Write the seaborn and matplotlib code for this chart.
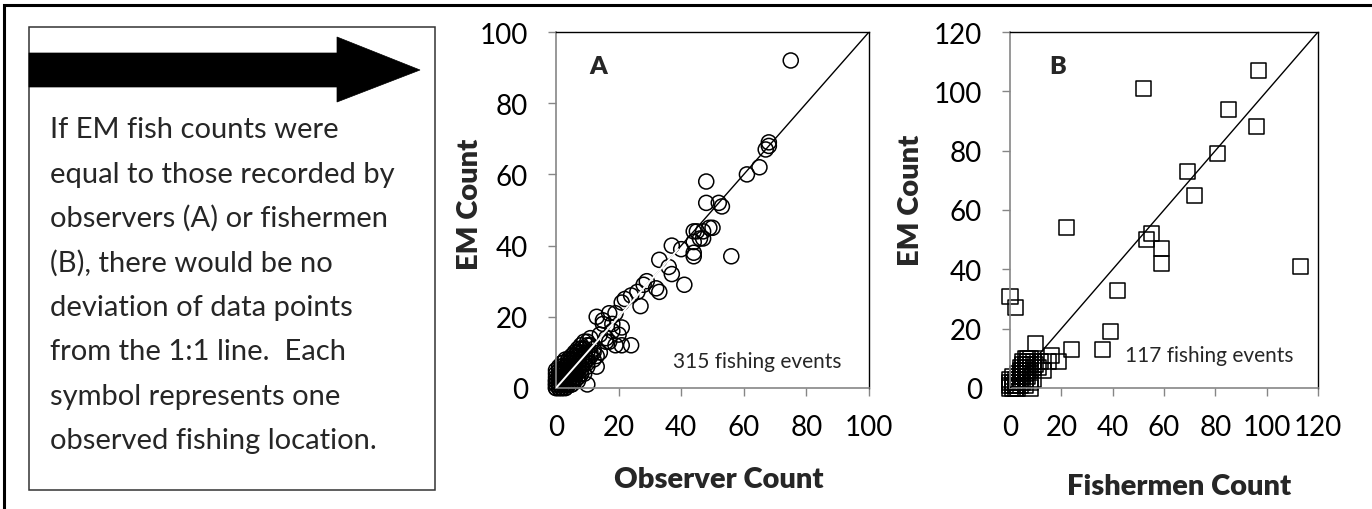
import matplotlib
matplotlib.use("Agg")
import matplotlib.pyplot as plt
import matplotlib.patches as patches
import seaborn as sns
import pandas as pd

# Painel A: observador vs EM
obs_a = [75, 68, 68, 67, 61, 65, 48, 48, 52, 53, 44, 47, 49, 46, 44, 44, 56,
         37, 40, 33, 36, 37, 41, 32, 28, 29, 26, 27, 24, 22, 21, 33, 44, 45, 47, 50,
         13, 15, 15, 18, 19, 17, 21, 20, 18, 16, 17, 19, 21, 24, 16, 14,
         13, 13, 14, 10, 7, 11, 10, 8, 9, 12,
         0, 0, 0, 0, 1, 1, 1, 1, 1, 2, 2, 2, 2, 2, 2, 3, 3, 3, 3, 3, 3,
         4, 4, 4, 4, 4, 5, 5, 5, 5, 5, 6, 6, 6, 6, 7, 7, 7, 7, 8, 8, 8,
         9, 9, 9, 10, 10, 0, 1, 2, 3, 1, 2, 0, 4, 5, 6, 3, 2, 1, 7, 8, 6,
         5, 4, 3, 2, 11, 12, 10, 9, 8, 1, 0, 2, 3, 4, 6, 7, 5, 11, 9,
         0, 1, 1, 2, 3, 4, 5, 6, 7, 8, 9, 10, 11, 12, 4, 5, 6, 7, 8, 9,
         2, 3, 4, 5, 6, 7, 1, 2, 3, 0, 1, 2, 5, 6, 7, 8, 3, 4, 10, 11]
em_a = [92, 69, 68, 67, 60, 62, 58, 52, 52, 51, 44, 44, 45, 42, 41, 37, 37,
        40, 39, 36, 34, 32, 29, 28, 29, 30, 27, 23, 26, 25, 24, 27, 38, 44, 42, 45,
        20, 18, 19, 18, 21, 21, 17, 15, 16, 14, 13, 12, 12, 12, 13, 15,
        6, 9, 10, 1, 2, 10, 12, 11, 9, 8,
        0, 1, 2, 0, 0, 1, 2, 3, 1, 0, 1, 2, 3, 4, 2, 1, 2, 3, 4, 5, 3,
        2, 3, 4, 5, 6, 3, 4, 5, 6, 7, 4, 5, 6, 8, 5, 6, 7, 9, 6, 8, 10,
        7, 9, 11, 8, 10, 3, 4, 5, 6, 5, 6, 4, 7, 8, 9, 1, 0, 0, 10, 11, 3,
        1, 1, 0, 7, 9, 11, 6, 4, 4, 3, 2, 0, 2, 8, 7, 3, 2, 12, 11,
        1, 0, 3, 2, 1, 2, 2, 4, 5, 5, 7, 7, 9, 10, 8, 9, 10, 11, 12, 13,
        5, 6, 7, 8, 9, 10, 6, 7, 8, 5, 3, 4, 1, 2, 3, 4, 0, 1, 13, 14]

# Painel B: pescadores vs EM
fish_b = [97, 52, 85, 96, 81, 69, 72, 22, 55, 53, 59, 59, 42, 39, 36, 24, 19,
          16, 15, 10, 13, 0, 2, 113,
          0, 0, 1, 1, 0, 2, 1, 2, 3, 0, 1, 3, 2, 4, 3, 4, 5, 5, 6, 4, 6, 5,
          7, 6, 7, 8, 8, 7, 6, 5, 4, 3, 8, 9, 9, 7, 6, 8, 5, 4, 3, 2, 9, 8,
          6, 10, 11, 12]
em_b = [107, 101, 94, 88, 79, 73, 65, 54, 52, 50, 47, 42, 33, 19, 13, 13, 9,
        11, 9, 15, 6, 31, 27, 41,
        0, 1, 0, 2, 2, 1, 1, 3, 2, 3, 4, 1, 0, 3, 4, 5, 4, 6, 5, 7, 8, 9,
        9, 7, 6, 8, 10, 10, 10, 8, 6, 5, 6, 9, 7, 4, 3, 2, 2, 1, 0, 2, 3, 0,
        1, 8, 7, 9]

linha_a = [0, 100]
linha_a_branca = [0, 39]
linha_b = [0, 120]

df_a = pd.DataFrame({"obs": obs_a, "em": em_a})
df_b = pd.DataFrame({"fish": fish_b, "em": em_b})

sns.set_theme(style="white")
plt.rcParams["font.family"] = ["Lato", "DejaVu Sans"]

W, H = 1372, 510
fig = plt.figure(figsize=(W / 100, H / 100), dpi=100)

def fx(px):
    return px / W

def fy(py):
    return 1 - py / H

# moldura externa
fig.patches.append(patches.Rectangle((fx(4), -0.05), 1.1, fy(6) + 0.05,
                                     transform=fig.transFigure, fill=False,
                                     edgecolor="black", lw=2.2, clip_on=False))
# caixa de texto
fig.patches.append(patches.Rectangle((fx(29), fy(491)), fx(435) - fx(29), fy(28) - fy(491),
                                     transform=fig.transFigure, fill=False,
                                     edgecolor="#333333", lw=1.1))
# seta
seta = [(29, 54), (337, 54), (337, 38), (420, 71), (337, 103), (337, 88), (29, 88)]
fig.patches.append(patches.Polygon([(fx(a), fy(b)) for a, b in seta], closed=True,
                                   transform=fig.transFigure, facecolor="black",
                                   edgecolor="black", lw=0.5))

linhas = ["If EM fish counts were",
          "equal to those recorded by",
          "observers (A) or fishermen",
          "(B), there would be no",
          "deviation of data points",
          "from the 1:1 line.  Each",
          "symbol represents one",
          "observed fishing location."]
for i, t in enumerate(linhas):
    fig.text(fx(50), fy(138 + 44.5 * i), t, fontsize=21, va="baseline", ha="left")

cinza = "#868686"

def estilo(ax, xmax, ymax, passo):
    ax.set_xlim(0, xmax)
    ax.set_ylim(0, ymax)
    ax.set_xticks(range(0, xmax + 1, passo))
    ax.set_yticks(range(0, ymax + 1, 20))
    for s in ["top", "right"]:
        ax.spines[s].set_color("black")
        ax.spines[s].set_linewidth(1.0)
    for s in ["left", "bottom"]:
        ax.spines[s].set_color(cinza)
        ax.spines[s].set_linewidth(1.2)
    ax.tick_params(axis="both", direction="out", length=6, width=1.0, color=cinza,
                   labelsize=20, labelcolor="black")
    ax.tick_params(axis="y", pad=14, left=True)
    ax.tick_params(axis="x", pad=13, bottom=True)
    ax.grid(False)

# Painel A
ax1 = fig.add_axes([fx(556), fy(389), fx(869) - fx(556), fy(33) - fy(389)])
sns.scatterplot(data=df_a, x="obs", y="em", ax=ax1, marker="o", s=117,
                facecolor="none", edgecolor="black", linewidth=1.1, zorder=2,
                clip_on=False)
ax1.plot(linha_a, linha_a, color="black", lw=1.0, zorder=3)
ax1.plot(linha_a_branca, linha_a_branca, color="white", lw=1.4, zorder=4)
estilo(ax1, 100, 100, 20)
ax1.set_xlabel("Observer Count", fontsize=21, fontweight="heavy", va="center")
ax1.xaxis.set_label_coords(0.52, -0.255)
ax1.set_ylabel("EM Count", fontsize=21, fontweight="heavy", va="center")
ax1.yaxis.set_label_coords(-0.275, 0.52)
ax1.text(0.134, 0.904, "A", transform=ax1.transAxes, fontsize=18, fontweight="heavy",
         ha="center", va="center")
ax1.text(0.374, 0.059, "315 fishing events", transform=ax1.transAxes, fontsize=15,
         ha="left", va="baseline")

# Painel B
ax2 = fig.add_axes([fx(1010), fy(389), fx(1318) - fx(1010), fy(33) - fy(389)])
sns.scatterplot(data=df_b, x="fish", y="em", ax=ax2, marker="s", s=117,
                facecolor="none", edgecolor="black", linewidth=1.1, zorder=2,
                clip_on=False)
ax2.plot(linha_b, linha_b, color="black", lw=1.0, zorder=3)
estilo(ax2, 120, 120, 20)
ax2.set_xlabel("Fishermen Count", fontsize=21, fontweight="heavy", va="center")
ax2.xaxis.set_label_coords(0.55, -0.275)
ax2.set_ylabel("EM Count", fontsize=21, fontweight="heavy", va="center")
ax2.yaxis.set_label_coords(-0.321, 0.53)
ax2.text(0.156, 0.904, "B", transform=ax2.transAxes, fontsize=18, fontweight="heavy",
         ha="center", va="center")
ax2.text(0.373, 0.076, "117 fishing events", transform=ax2.transAxes, fontsize=15,
         ha="left", va="baseline")

fig.savefig("out.png", dpi=100)
